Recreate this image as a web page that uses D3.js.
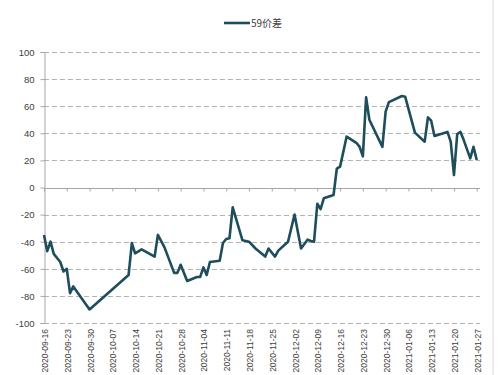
<!DOCTYPE html>
<html>
<head>
<meta charset="utf-8">
<script src="https://cdn.jsdelivr.net/npm/d3@7"></script>
<style>
  body { margin: 0; background: #fff; }
  svg { display: block; font-family: "Liberation Sans", Arial, sans-serif; }
</style>
</head>
<body>
<div id="chart"></div>
<script>
// Data
const seriesName = "59价差";
const dates = [
  "2020-09-16", "2020-09-17", "2020-09-18", "2020-09-19", "2020-09-21", "2020-09-22",
  "2020-09-23", "2020-09-24", "2020-09-25", "2020-09-30", "2020-10-12", "2020-10-13",
  "2020-10-14", "2020-10-16", "2020-10-20", "2020-10-21", "2020-10-23", "2020-10-26",
  "2020-10-27", "2020-10-28", "2020-10-30", "2020-11-02", "2020-11-03", "2020-11-04",
  "2020-11-05", "2020-11-06", "2020-11-09", "2020-11-10", "2020-11-11", "2020-11-12",
  "2020-11-13", "2020-11-16", "2020-11-18", "2020-11-20", "2020-11-23", "2020-11-24",
  "2020-11-26", "2020-11-27", "2020-11-30", "2020-12-02", "2020-12-04", "2020-12-06",
  "2020-12-07", "2020-12-08", "2020-12-09", "2020-12-10", "2020-12-11", "2020-12-14",
  "2020-12-15", "2020-12-16", "2020-12-18", "2020-12-21", "2020-12-22", "2020-12-23",
  "2020-12-24", "2020-12-25", "2020-12-29", "2020-12-30", "2020-12-31", "2021-01-04",
  "2021-01-05", "2021-01-08", "2021-01-11", "2021-01-12", "2021-01-13", "2021-01-14",
  "2021-01-18", "2021-01-19", "2021-01-20", "2021-01-21", "2021-01-22", "2021-01-23",
  "2021-01-25", "2021-01-26", "2021-01-27"
];
const spread = [
  -35, -47, -40, -49, -55, -62,
  -60, -78, -73, -90, -64.6, -41,
  -48.6, -45.6, -51, -35, -44, -63,
  -63, -57, -69, -66, -66, -59,
  -64.6, -55, -54, -41, -38, -37.5,
  -14.6, -39, -40, -45, -51, -45,
  -51, -46.6, -40, -20, -45, -38.5,
  -39.5, -40, -12, -16, -8, -5.5,
  14, 15.4, 37.5, 33, 30, 23,
  66.5, 50, 30, 56, 63, 67.5,
  67, 40.5, 33.8, 51.8, 49.3, 38,
  41, 33.8, 9.2, 39.5, 41, 35,
  21.5, 30, 20.3
];
const tickDates = [
  "2020-09-16", "2020-09-23", "2020-09-30", "2020-10-07", "2020-10-14", "2020-10-21",
  "2020-10-28", "2020-11-04", "2020-11-11", "2020-11-18", "2020-11-25", "2020-12-02",
  "2020-12-09", "2020-12-16", "2020-12-23", "2020-12-30", "2021-01-06", "2021-01-13",
  "2021-01-20", "2021-01-27"
];
const yTicks = [-100, -80, -60, -40, -20, 0, 20, 40, 60, 80, 100];

const width = 499;
const height = 375;
const plotLeft = 44, plotRight = 480, plotTop = 52, plotBottom = 323;
const lineColor = "#1e4d5c";

const parse = d3.timeParse("%Y-%m-%d");
const data = dates.map((d, i) => ({ date: parse(d), value: spread[i] }));

const svg = d3.select("#chart")
              .append("svg")
              .attr("width", width)
              .attr("height", height);

const x = d3.scaleTime()
            .domain([parse("2020-09-16"), parse("2021-01-28")])
            .range([plotLeft, plotRight]);

const y = d3.scaleLinear()
            .domain([-100, 100])
            .range([plotBottom, plotTop]);

// thin frame edge on the right
svg.append("line")
   .attr("x1", 493).attr("x2", 493)
   .attr("y1", 0).attr("y2", height)
   .style("stroke", "#d9d9d9")
   .style("stroke-width", 1);

// dashed gridlines (all but zero)
svg.append("g")
   .selectAll("line")
   .data(yTicks.filter(d => d !== 0))
   .enter()
   .append("line")
   .attr("x1", plotLeft)
   .attr("x2", plotRight)
   .attr("y1", d => Math.round(y(d)) + 0.5)
   .attr("y2", d => Math.round(y(d)) + 0.5)
   .style("stroke", "#b3b3b3")
   .style("stroke-width", 1)
   .style("stroke-dasharray", "5,3");

// y axis, plain hyphen for negatives like the original
const yAxis = svg.append("g")
                 .attr("transform", `translate(${plotLeft + 0.5},0)`)
                 .call(d3.axisLeft(y).tickValues(yTicks).tickSize(4).tickPadding(6)
                         .tickFormat(d => String(d)));

yAxis.select(".domain").style("stroke", "#a6a6a6");
yAxis.selectAll(".tick line").style("stroke", "#a6a6a6");
yAxis.selectAll("text")
     .style("font-size", "9.5px")
     .style("fill", "#404040")
     .attr("dy", "0.35em");

// zero line with weekly ticks
const xAxis = svg.append("g")
                 .attr("transform", `translate(0,${Math.round(y(0)) + 0.5})`)
                 .call(d3.axisBottom(x).tickValues(tickDates.map(parse)).tickSize(3).tickFormat(""));

xAxis.select(".domain")
     .attr("d", `M${plotLeft},0H${plotRight}`)
     .style("stroke", "#a6a6a6");
xAxis.selectAll(".tick line").style("stroke", "#a6a6a6");

// rotated date labels at the bottom
svg.append("g")
   .selectAll("text")
   .data(tickDates)
   .enter()
   .append("text")
   .attr("transform", d => `translate(${x(parse(d)) + 4},${plotBottom + 6}) rotate(-90)`)
   .attr("text-anchor", "end")
   .text(d => d)
   .style("font-size", "8.5px")
   .style("fill", "#404040");

// the series line
const line = d3.line()
               .x(d => x(d.date))
               .y(d => y(d.value));

svg.append("path")
   .datum(data)
   .attr("d", line)
   .style("fill", "none")
   .style("stroke", lineColor)
   .style("stroke-width", 2.6)
   .style("stroke-linejoin", "round");

// legend
const legend = svg.append("g")
                  .attr("transform", "translate(224,23)");

legend.append("line")
      .attr("x1", 0).attr("x2", 26)
      .attr("y1", 0).attr("y2", 0)
      .style("stroke", lineColor)
      .style("stroke-width", 2.6);

legend.append("text")
      .attr("x", 27)
      .attr("y", 0)
      .attr("dy", "0.35em")
      .text(seriesName)
      .style("font-family", "'Noto Sans CJK SC', sans-serif")
      .style("font-size", "10px")
      .style("fill", "#404040");
</script>
</body>
</html>
